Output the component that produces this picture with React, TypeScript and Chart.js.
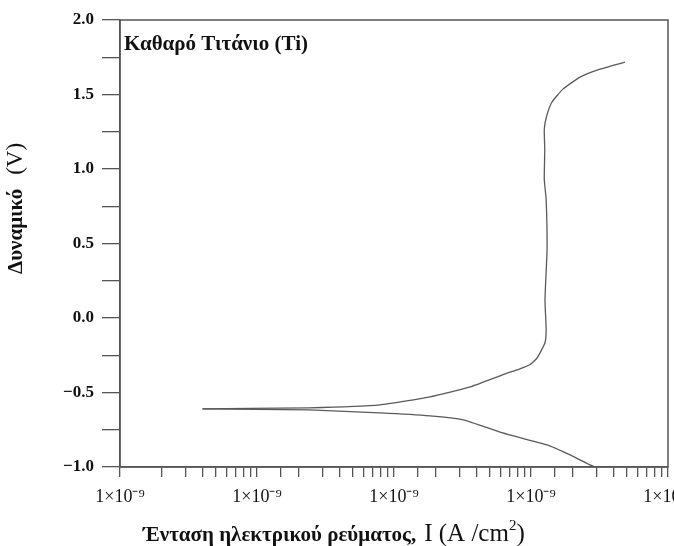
import React, { useEffect, useRef } from "react";
import { Chart, registerables } from "chart.js";

Chart.register(...registerables);

// Cathodic branch (from Ecorr downwards)
const cathodicCurrent = [4.0e-9, 2.4e-8, 7.9e-8, 1.83e-7, 3.2e-7, 6.2e-7, 1.31e-6, 1.93e-6, 2.93e-6, 3.6e-6];
const cathodicPotential = [-0.61, -0.617, -0.637, -0.657, -0.684, -0.771, -0.852, -0.919, -1.0, -1.0];

// Anodic branch (from Ecorr upwards)
const anodicCurrent = [
  4.0e-9, 8.9e-9, 2.4e-8, 7.9e-8, 1.83e-7, 3.6e-7, 6.2e-7, 8.3e-7, 9.8e-7, 1.11e-6,
  1.265e-6, 1.29e-6, 1.265e-6, 1.31e-6, 1.29e-6, 1.25e-6, 1.26e-6, 1.25e-6, 1.3e-6,
  1.42e-6, 1.71e-6, 2.28e-6, 3.19e-6, 4.85e-6,
];
const anodicPotential = [
  -0.61, -0.606, -0.603, -0.583, -0.529, -0.462, -0.381, -0.341, -0.314, -0.267,
  -0.166, -0.078, 0.123, 0.46, 0.796, 0.93, 1.132, 1.267, 1.354,
  1.448, 1.536, 1.617, 1.67, 1.717,
];

const xMin = 1e-9;
const xMax = 1e-5;
const yMin = -1.0;
const yMax = 2.0;
const xTickLabel = "1×10⁻⁹";
const innerTitle = "Καθαρό Τιτάνιο (Ti)";
const xTitleBold = "Ένταση ηλεκτρικού ρεύματος,";
const xTitleUnit = "I (A /cm";
const yTitleBold = "Δυναμικό";
const yTitleUnit = "(V)";

const SERIF = '"Liberation Serif", "Times New Roman", serif';

const decor = {
  id: "decor",
  afterDraw(chart: any) {
    const { ctx, chartArea: a } = chart;
    ctx.save();
    ctx.strokeStyle = "#555";
    ctx.lineWidth = 1.5;
    ctx.strokeRect(a.left, a.top, a.right - a.left, a.bottom - a.top);

    ctx.fillStyle = "#111";
    ctx.textBaseline = "alphabetic";
    ctx.textAlign = "left";
    ctx.font = `bold 21px ${SERIF}`;
    ctx.fillText(innerTitle, a.left + 4, a.top + 30);

    // x title
    let x = 143;
    const by = 541;
    ctx.font = `bold 21px ${SERIF}`;
    ctx.fillText(xTitleBold, x, by);
    x += ctx.measureText(xTitleBold).width + 8;
    ctx.font = `25px ${SERIF}`;
    ctx.fillText(xTitleUnit, x, by);
    x += ctx.measureText(xTitleUnit).width;
    ctx.font = `15px ${SERIF}`;
    ctx.fillText("2", x, by - 11);
    x += ctx.measureText("2").width;
    ctx.font = `25px ${SERIF}`;
    ctx.fillText(")", x, by);

    // y title
    ctx.translate(22, 274);
    ctx.rotate(-Math.PI / 2);
    ctx.font = `bold 21px ${SERIF}`;
    ctx.fillText(yTitleBold, 0, 0);
    const w = ctx.measureText(yTitleBold).width + 14;
    ctx.font = `23px ${SERIF}`;
    ctx.fillText(yTitleUnit, w, 0);
    ctx.restore();
  },
};

export default function App() {
  const ref = useRef<HTMLCanvasElement | null>(null);
  useEffect(() => {
    if (!ref.current) return;
    const lineStyle = {
      showLine: true,
      borderColor: "#5a5a5a",
      borderWidth: 1.3,
      pointRadius: 0,
      tension: 0.15,
      fill: false,
    };
    const chart = new Chart(ref.current, {
      type: "scatter",
      data: {
        datasets: [
          {
            label: "cathodic",
            data: cathodicCurrent.map((v, i) => ({ x: v, y: cathodicPotential[i] })),
            ...lineStyle,
          },
          {
            label: "anodic",
            data: anodicCurrent.map((v, i) => ({ x: v, y: anodicPotential[i] })),
            ...lineStyle,
          },
        ],
      },
      options: {
        animation: false,
        responsive: false,
        maintainAspectRatio: false,
        layout: { padding: { top: 20, right: 6, left: 0, bottom: 0 } },
        plugins: { legend: { display: false }, tooltip: { enabled: false } },
        scales: {
          x: {
            type: "logarithmic",
            min: xMin,
            max: xMax,
            position: "bottom",
            border: { display: true, color: "#555", width: 1.5 },
            grid: { drawOnChartArea: false, drawTicks: true, tickLength: 10, color: "#555", lineWidth: 1.3 },
            ticks: {
              autoSkip: false,
              maxRotation: 0,
              minRotation: 0,
              padding: 9,
              color: "#111",
              font: { family: SERIF, size: 18 },
              callback: (value: any) => {
                const l = Math.log10(Number(value));
                return Math.abs(l - Math.round(l)) < 1e-6 ? xTickLabel : "";
              },
            },
            afterFit: (s: any) => {
              s.height = 79;
              s.paddingLeft = 0;
              s.paddingRight = 0;
            },
          },
          y: {
            type: "linear",
            min: yMin,
            max: yMax,
            border: { display: true, color: "#555", width: 1.5 },
            grid: { drawOnChartArea: false, drawTicks: true, tickLength: 18, color: "#555", lineWidth: 1.3 },
            ticks: {
              stepSize: 0.25,
              autoSkip: false,
              padding: 8,
              color: "#111",
              font: { family: SERIF, size: 17, weight: "bold" },
              callback: (value: any) => {
                const v = Number(value);
                if (Math.abs(v * 2 - Math.round(v * 2)) > 1e-6) return "";
                return v < 0 ? "−" + Math.abs(v).toFixed(1) : v.toFixed(1);
              },
            },
            afterFit: (s: any) => {
              s.width = 120;
              s.paddingTop = 0;
              s.paddingBottom = 0;
            },
          },
        },
      },
      plugins: [decor],
    });
    return () => chart.destroy();
  }, []);
  return (
    <div style={{ position: "absolute", left: 0, top: 0, width: 674, height: 546, background: "#fff" }}>
      <canvas ref={ref} width={674} height={546} style={{ width: 674, height: 546 }} />
    </div>
  );
}
